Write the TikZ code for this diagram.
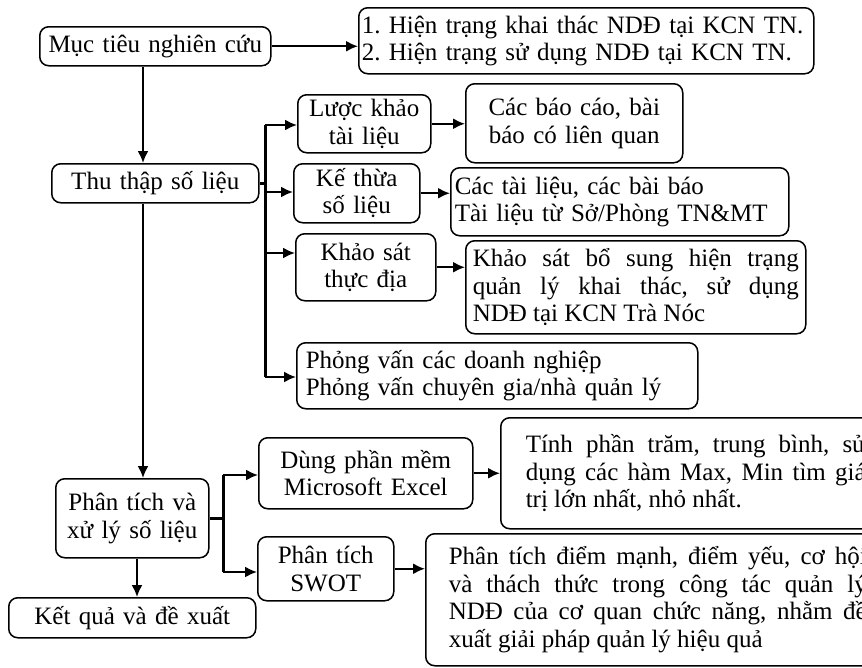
\documentclass[tikz,border=0pt]{standalone}
\usepackage{fontspec}
\setmainfont{Liberation Serif}[WordSpace={1,2,0}]
\usepackage{tikz}
\usetikzlibrary{arrows.meta}
\frenchspacing
\hyphenpenalty=10000
\exhyphenpenalty=10000
\tolerance=10000
\tikzset{every node/.style={align=center}, >={Latex[length=12pt,width=11pt]}, font=\fontsize{25}{27.5}\selectfont}
\tikzset{box/.style={draw, rounded corners=9pt, line width=1.5pt, anchor=north west, inner ysep=0pt, inner xsep=0pt},
    arrow/.style={->, line width=2pt},
    bus/.style={line width=3pt}}

\begin{document}
\begin{tikzpicture}[x=1pt, y=-1pt]
            \useasboundingbox (0,0) rectangle (862,667);
            \node [box, text width=231pt, minimum height=39pt] (muctieu) at (39,26) {Mục tiêu nghiên cứu};
            \node [box, text width=449pt, inner xsep=3pt, minimum height=66pt, align=left] (hientrang) at (358,7) {1. Hiện trạng khai thác NDĐ tại KCN TN.\\2. Hiện trạng sử dụng NDĐ tại KCN TN.};
            \node [box, text width=207pt, minimum height=39pt] (thuthap) at (51,163) {Thu thập số liệu};
            \node [box, text width=133pt, minimum height=58pt] (luockhao) at (297,94) {Lược khảo\\tài liệu};
            \node [box, text width=126pt, minimum height=59pt] (kethua) at (293,163) {Kế thừa\\số liệu};
            \node [box, text width=140pt, minimum height=67pt] (khaosat) at (295,233) {Khảo sát\\thực địa};
            \node [box, text width=383pt, inner xsep=9pt, minimum height=66pt, align=left] (phongvan) at (296,342) {Phỏng vấn các doanh nghiệp\\Phỏng vấn chuyên gia/nhà quản lý};
            \node [box, text width=217pt, minimum height=79pt] (baocao) at (465,83) {Các báo cáo, bài\\báo có liên quan};
            \node [box, text width=330pt, inner xsep=4pt, minimum height=68pt, align=left] (tailieu) at (450,167) {Các tài liệu, các bài báo\\Tài liệu từ Sở/Phòng TN\&MT};
            \node [box, text width=326pt, inner xsep=7pt, minimum height=93pt, align=justify] (bosung) at (465,240) {Khảo sát bổ sung hiện trạng\linebreak quản lý khai thác, sử dụng\linebreak NDĐ tại KCN Trà Nóc};
            \node [box, text width=153pt, minimum height=79pt] (phantich) at (55,478) {Phân tích và\\xử lý số liệu};
            \node [box, text width=247pt, minimum height=40pt] (ketqua) at (8,597) {Kết quả và đề xuất};
            \node [box, text width=214pt, minimum height=71pt] (excel) at (258,437) {Dùng phần mềm\\Microsoft Excel};
            \node [box, text width=136pt, minimum height=64pt] (swot) at (257,536) {Phân tích\\SWOT};
            \node [box, text width=340pt, inner xsep=25pt, minimum height=111pt, align=justify] (tinh) at (500,417) {Tính phần trăm, trung bình, sử\linebreak dụng các hàm Max, Min tìm giá\linebreak trị lớn nhất, nhỏ nhất.\par\vspace*{14pt}};
            \node [box, text width=418pt, inner xsep=23pt, minimum height=132pt, align=justify] (diemmanh) at (425,533) {Phân tích điểm mạnh, điểm yếu, cơ hội\linebreak và thách thức trong công tác quản lý\linebreak NDĐ của cơ quan chức năng, nhằm đề\linebreak xuất giải pháp quản lý hiệu quả};
            \coordinate (vx) at (143,0);
            \coordinate (kx) at (137,0);
            \coordinate (b1) at (265,125);
            \coordinate (b2) at (265,192);
            \coordinate (b3) at (265,253);
            \coordinate (b4) at (265,377);
            \coordinate (c1) at (223,475);
            \coordinate (c2) at (223,572);
            \draw [arrow] (muctieu.east) -- (muctieu.east -| hientrang.west);
            \draw [arrow] (muctieu.south -| vx) -- (thuthap.north -| vx);
            \draw [arrow] (thuthap.south -| vx) -- (phantich.north -| vx);
            \draw [arrow] (phantich.south -| kx) -- (ketqua.north -| kx);
            \draw [bus] (thuthap.east) -- (thuthap.east -| b1);
            \draw [bus] (b1) -- (b4);
            \draw [arrow] (b1) -- (b1 -| luockhao.west);
            \draw [arrow] (b2) -- (b2 -| kethua.west);
            \draw [arrow] (b3) -- (b3 -| khaosat.west);
            \draw [arrow] (b4) -- (b4 -| phongvan.west);
            \draw [arrow] (luockhao.east) -- (luockhao.east -| baocao.west);
            \draw [arrow] (kethua.east) -- (kethua.east -| tailieu.west);
            \draw [arrow] (khaosat.east) -- (khaosat.east -| bosung.west);
            \draw [bus] (phantich.east) -- (phantich.east -| c1);
            \draw [bus] (c1) -- (c2);
            \draw [arrow] (c1) -- (c1 -| excel.west);
            \draw [arrow] (c2) -- (c2 -| swot.west);
            \draw [arrow] (excel.east) -- (excel.east -| tinh.west);
            \draw [arrow] (swot.east) -- (swot.east -| diemmanh.west);
        \end{tikzpicture}
\end{document}
